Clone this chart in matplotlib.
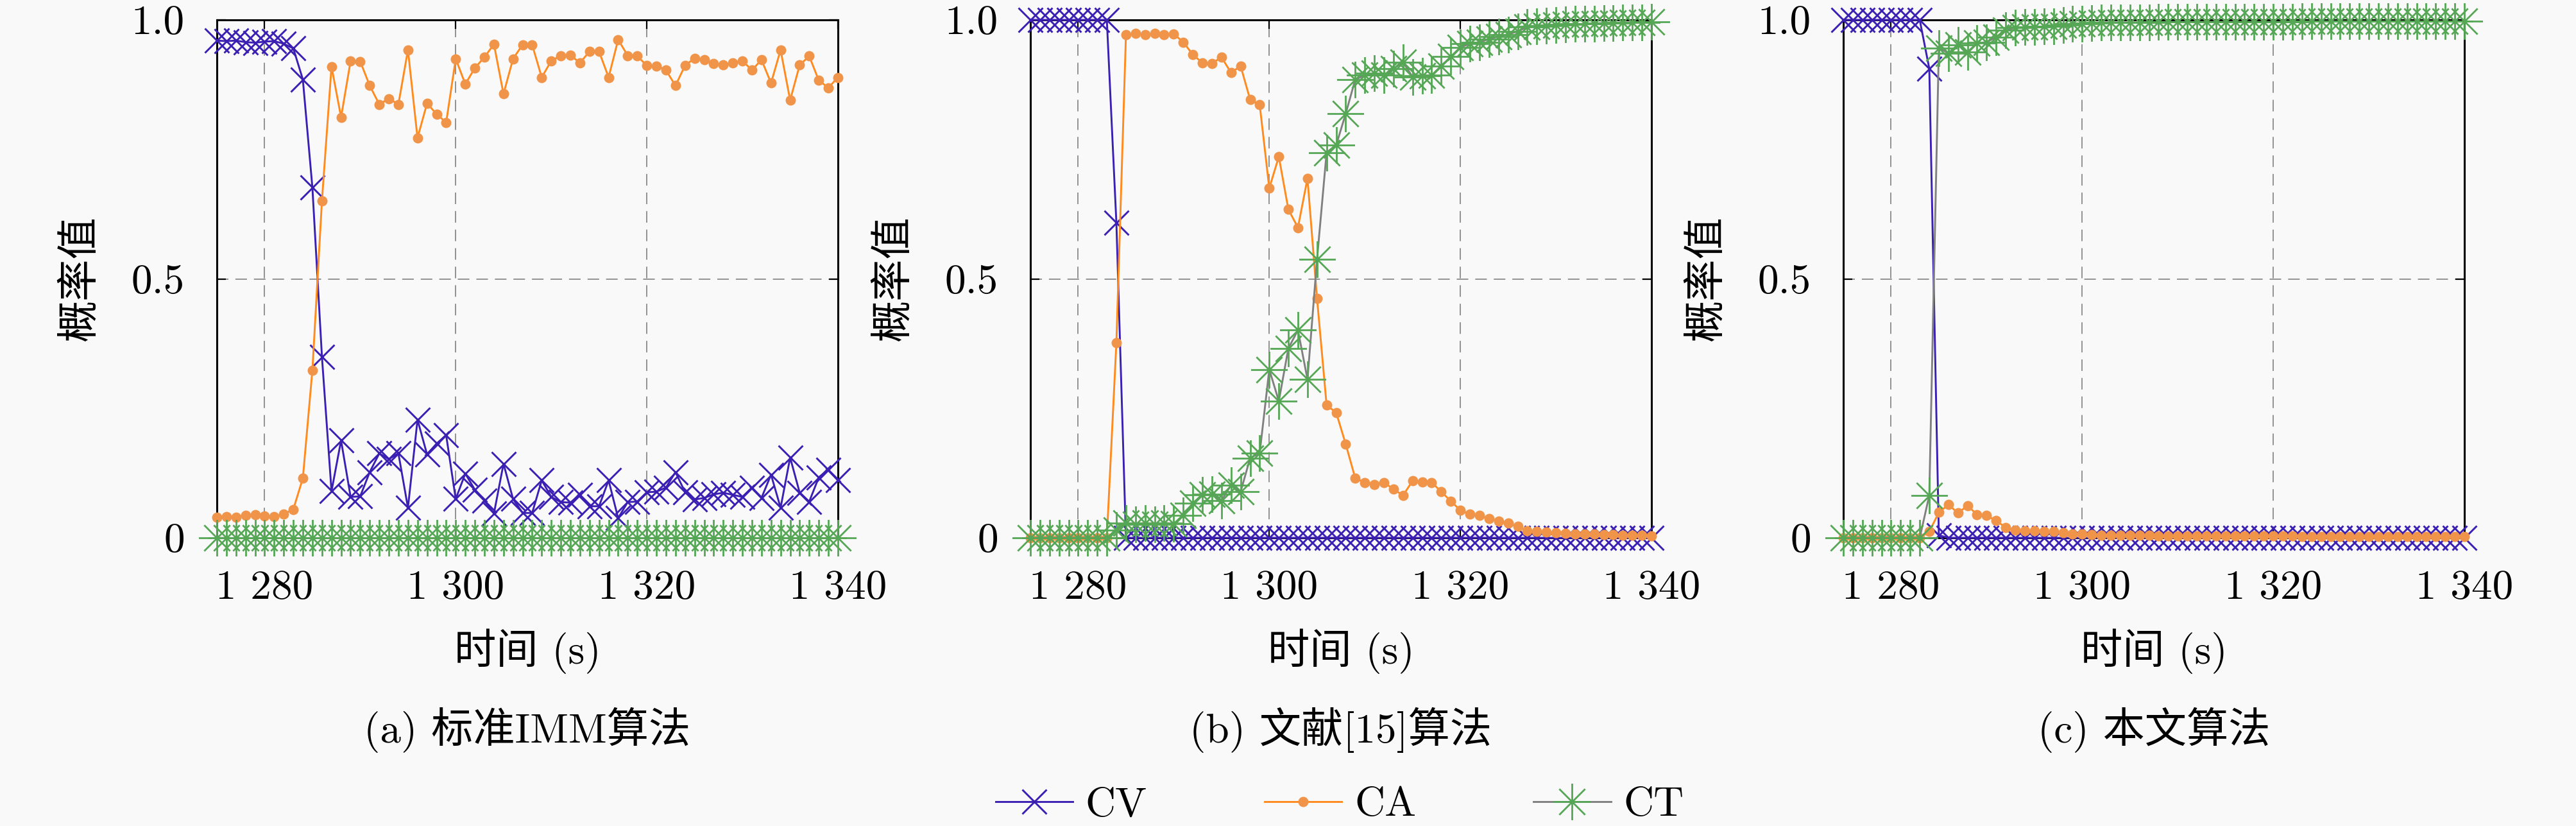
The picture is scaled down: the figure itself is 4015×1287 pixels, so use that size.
import numpy as np
import matplotlib
matplotlib.use("Agg")
import matplotlib.pyplot as plt
from matplotlib.path import Path

plt.rcParams['font.family'] = ['cmr10', 'Noto Sans CJK SC']
plt.rcParams['mathtext.fontset'] = 'cm'
plt.rcParams['axes.unicode_minus'] = False
plt.rcParams['axes.formatter.use_mathtext'] = True

# 时间轴 (1 s 步长)
time = list(range(1275, 1341))

# (a) 标准IMM算法
cv_a = [0.960, 0.959, 0.960, 0.957, 0.956, 0.958, 0.959, 0.954, 0.945, 0.885,
        0.676, 0.349, 0.090, 0.188, 0.079, 0.080, 0.127, 0.163, 0.152, 0.163,
        0.058, 0.228, 0.161, 0.182, 0.198, 0.075, 0.124, 0.093, 0.072, 0.047,
        0.143, 0.075, 0.048, 0.048, 0.111, 0.079, 0.069, 0.068, 0.083, 0.061,
        0.061, 0.111, 0.038, 0.069, 0.070, 0.088, 0.089, 0.097, 0.127, 0.088,
        0.074, 0.077, 0.084, 0.087, 0.083, 0.079, 0.097, 0.077, 0.122, 0.058,
        0.155, 0.087, 0.070, 0.117, 0.131, 0.111]
ca_a = [0.040, 0.041, 0.040, 0.043, 0.044, 0.042, 0.041, 0.046, 0.055, 0.115,
        0.324, 0.651, 0.910, 0.812, 0.921, 0.920, 0.873, 0.837, 0.848, 0.837,
        0.942, 0.772, 0.839, 0.818, 0.802, 0.925, 0.876, 0.907, 0.928, 0.953,
        0.857, 0.925, 0.952, 0.952, 0.889, 0.921, 0.931, 0.932, 0.917, 0.939,
        0.939, 0.889, 0.962, 0.931, 0.930, 0.912, 0.911, 0.903, 0.873, 0.912,
        0.926, 0.923, 0.916, 0.913, 0.917, 0.921, 0.903, 0.923, 0.878, 0.942,
        0.845, 0.913, 0.930, 0.883, 0.869, 0.889]
ct_a = [0.000, 0.000, 0.000, 0.000, 0.000, 0.000, 0.000, 0.000, 0.000, 0.000,
        0.000, 0.000, 0.000, 0.000, 0.000, 0.000, 0.000, 0.000, 0.000, 0.000,
        0.000, 0.000, 0.000, 0.000, 0.000, 0.000, 0.000, 0.000, 0.000, 0.000,
        0.000, 0.000, 0.000, 0.000, 0.000, 0.000, 0.000, 0.000, 0.000, 0.000,
        0.000, 0.000, 0.000, 0.000, 0.000, 0.000, 0.000, 0.000, 0.000, 0.000,
        0.000, 0.000, 0.000, 0.000, 0.000, 0.000, 0.000, 0.000, 0.000, 0.000,
        0.000, 0.000, 0.000, 0.000, 0.000, 0.000]

# (b) 文献[15]算法
cv_b = [1.000, 1.000, 1.000, 1.000, 1.000, 1.000, 1.000, 1.000, 1.000, 0.608,
        0.000, 0.000, 0.000, 0.000, 0.000, 0.000, 0.000, 0.000, 0.000, 0.000,
        0.000, 0.000, 0.000, 0.000, 0.000, 0.000, 0.000, 0.000, 0.000, 0.000,
        0.000, 0.000, 0.000, 0.000, 0.000, 0.000, 0.000, 0.000, 0.000, 0.000,
        0.000, 0.000, 0.000, 0.000, 0.000, 0.000, 0.000, 0.000, 0.000, 0.000,
        0.000, 0.000, 0.000, 0.000, 0.000, 0.000, 0.000, 0.000, 0.000, 0.000,
        0.000, 0.000, 0.000, 0.000, 0.000, 0.000]
ca_b = [0.000, 0.000, 0.000, 0.000, 0.000, 0.000, 0.000, 0.000, 0.000, 0.377,
        0.971, 0.974, 0.971, 0.974, 0.971, 0.973, 0.957, 0.933, 0.917, 0.916,
        0.928, 0.898, 0.911, 0.846, 0.836, 0.675, 0.736, 0.634, 0.599, 0.694,
        0.462, 0.256, 0.242, 0.181, 0.115, 0.107, 0.103, 0.107, 0.094, 0.082,
        0.110, 0.108, 0.107, 0.089, 0.071, 0.053, 0.046, 0.043, 0.037, 0.032,
        0.028, 0.022, 0.014, 0.012, 0.011, 0.010, 0.009, 0.008, 0.008, 0.007,
        0.006, 0.006, 0.005, 0.005, 0.005, 0.004]
ct_b = [0.000, 0.000, 0.000, 0.000, 0.000, 0.000, 0.000, 0.000, 0.000, 0.015,
        0.029, 0.026, 0.029, 0.026, 0.029, 0.027, 0.043, 0.067, 0.083, 0.084,
        0.072, 0.102, 0.089, 0.154, 0.164, 0.325, 0.264, 0.366, 0.401, 0.306,
        0.538, 0.744, 0.758, 0.819, 0.885, 0.893, 0.897, 0.893, 0.906, 0.918,
        0.890, 0.892, 0.893, 0.911, 0.929, 0.947, 0.954, 0.957, 0.963, 0.968,
        0.972, 0.978, 0.986, 0.988, 0.989, 0.990, 0.991, 0.992, 0.992, 0.993,
        0.994, 0.994, 0.995, 0.995, 0.995, 0.996]

# (c) 本文算法
cv_c = [1.000, 1.000, 1.000, 1.000, 1.000, 1.000, 1.000, 1.000, 1.000, 0.906,
        0.005, 0.000, 0.000, 0.000, 0.000, 0.000, 0.000, 0.000, 0.000, 0.000,
        0.000, 0.000, 0.000, 0.000, 0.000, 0.000, 0.000, 0.000, 0.000, 0.000,
        0.000, 0.000, 0.000, 0.000, 0.000, 0.000, 0.000, 0.000, 0.000, 0.000,
        0.000, 0.000, 0.000, 0.000, 0.000, 0.000, 0.000, 0.000, 0.000, 0.000,
        0.000, 0.000, 0.000, 0.000, 0.000, 0.000, 0.000, 0.000, 0.000, 0.000,
        0.000, 0.000, 0.000, 0.000, 0.000, 0.000]
ca_c = [0.000, 0.000, 0.000, 0.000, 0.000, 0.000, 0.000, 0.000, 0.000, 0.012,
        0.049, 0.064, 0.048, 0.062, 0.045, 0.043, 0.033, 0.020, 0.015, 0.014,
        0.014, 0.013, 0.012, 0.010, 0.008, 0.007, 0.006, 0.005, 0.005, 0.005,
        0.005, 0.005, 0.005, 0.004, 0.004, 0.004, 0.004, 0.004, 0.004, 0.004,
        0.004, 0.004, 0.004, 0.004, 0.004, 0.004, 0.004, 0.004, 0.003, 0.003,
        0.003, 0.003, 0.003, 0.003, 0.003, 0.003, 0.003, 0.003, 0.003, 0.003,
        0.003, 0.003, 0.003, 0.003, 0.003, 0.003]
ct_c = [0.000, 0.000, 0.000, 0.000, 0.000, 0.000, 0.000, 0.000, 0.000, 0.082,
        0.946, 0.936, 0.952, 0.938, 0.955, 0.957, 0.967, 0.980, 0.985, 0.986,
        0.986, 0.987, 0.988, 0.990, 0.992, 0.993, 0.994, 0.995, 0.995, 0.995,
        0.995, 0.995, 0.995, 0.996, 0.996, 0.996, 0.996, 0.996, 0.996, 0.996,
        0.996, 0.996, 0.996, 0.996, 0.996, 0.996, 0.996, 0.996, 0.997, 0.997,
        0.997, 0.997, 0.997, 0.997, 0.997, 0.997, 0.997, 0.997, 0.997, 0.997,
        0.997, 0.997, 0.997, 0.997, 0.997, 0.997]

panels = [(cv_a, ca_a, ct_a, '(a) 标准IMM算法'),
          (cv_b, ca_b, ct_b, '(b) 文献[15]算法'),
          (cv_c, ca_c, ct_c, '(c) 本文算法')]

xticks = [1280, 1300, 1320, 1340]
xticklabels = ['1 280', '1 300', '1 320', '1 340']
yticks = [0, 0.5, 1.0]
yticklabels = ['0', '0.5', '1.0']

# MATLAB 风格的 8 臂星号
star_verts = []
star_codes = []
for ang in [0, 45, 90, 135]:
    a = np.deg2rad(ang)
    dx, dy = np.cos(a), np.sin(a)
    star_verts += [(-dx, -dy), (dx, dy)]
    star_codes += [Path.MOVETO, Path.LINETO]
star8 = Path(star_verts, star_codes)

c_cv = '#3a1fb2'
c_ca = '#ff8a1e'
c_ca_mk = '#f0944a'
c_ct = '#808080'
c_ct_mk = '#55a655'
bg = '#f9f9f9'

W, H = 4016, 1287
fig = plt.figure(figsize=(W / 100, H / 100), dpi=100, facecolor=bg)

lefts = [338, 1606, 2873]
ax_w = 968
ax_top, ax_bot = 31, 838
fs = 47

for left, (cv, ca, ct, cap) in zip(lefts, panels):
    ax = fig.add_axes([left / W, 1 - ax_bot / H, ax_w / W, (ax_bot - ax_top) / H])
    ax.set_facecolor(bg)
    l1, = ax.plot(time, cv, color=c_cv, lw=2.1, marker='x', ms=28, mew=2.1,
                  clip_on=False, zorder=3, label='CV')
    l2, = ax.plot(time, ca, color=c_ca, lw=2.1, marker='o', ms=11.5,
                  mfc=c_ca_mk, mec=c_ca_mk, mew=0, clip_on=False, zorder=4, label='CA')
    l3, = ax.plot(time, ct, color=c_ct, lw=2.1, marker=star8, ms=41, mew=2.0,
                  mec=c_ct_mk, mfc='none', clip_on=False, zorder=5, label='CT')
    ax.set_xlim(1275, 1340)
    ax.set_ylim(0, 1)
    ax.set_xticks(xticks)
    ax.set_xticklabels(xticklabels)
    ax.set_yticks(yticks)
    ax.set_yticklabels(yticklabels)
    ax.tick_params(direction='in', top=True, right=True, length=10, width=1.6,
                   labelsize=fs, pad=36)
    ax.grid(True, color='#8a8a8a', lw=1.3, linestyle=(0, (10, 6)), zorder=0)
    for s in ax.spines.values():
        s.set_linewidth(2.2)
        s.set_zorder(2)
    ax.set_xlabel('时间 (s)', fontsize=fs, va='center')
    ax.xaxis.set_label_coords(0.5, -(1015 - ax_bot) / (ax_bot - ax_top))
    ax.set_ylabel('概率值', fontsize=fs, va='center')
    ax.yaxis.set_label_coords(-213 / ax_w, 0.5)
    fig.text((left + ax_w / 2) / W, 1 - 1137 / H, cap, fontsize=fs,
             ha='center', va='center')

fig.legend([l1, l2, l3], ['CV', 'CA', 'CT'], loc='center', ncol=3,
           bbox_to_anchor=(2088 / W, 1 - 1255 / H), frameon=False, fontsize=fs,
           handlelength=1.85, handletextpad=0.3, columnspacing=2.8)

fig.savefig('out.png', dpi=100, facecolor=bg)
